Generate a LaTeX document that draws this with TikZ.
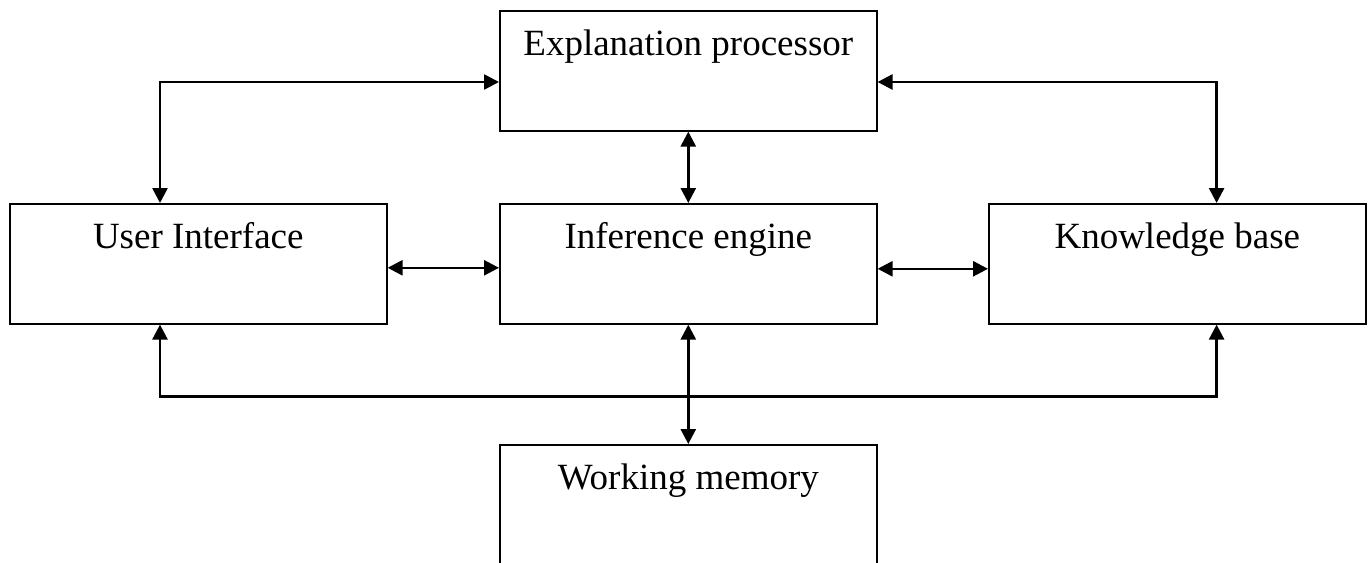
\documentclass[tikz,border=0pt]{standalone}
\usepackage{fontspec}
\setmainfont{Liberation Serif}
\usetikzlibrary{arrows.meta}
\begin{document}
\begin{tikzpicture}[x=1pt,y=-1pt,
  box/.style={draw,line width=1.6pt,minimum width=377pt,minimum height=120pt,anchor=north west,inner sep=0pt},
  lbl/.style={anchor=base,inner sep=0pt,font=\fontsize{37}{44}\selectfont},
  conn/.style={line width=2.6pt,{Triangle[length=15pt,width=15pt]}-{Triangle[length=15pt,width=15pt]}}]
\useasboundingbox (0,0) rectangle (1370,562);
\clip (0,0) rectangle (1370,562);
\node[box] (ep) at (499,10) {};
\node[box] (ui) at (9,203) {};
\node[box] (ie) at (499,203) {};
\node[box] (kb) at (988,203) {};
\node[box,minimum height=160pt] (wm) at (499,444) {};
\node[lbl] (ept) at ([yshift=-45pt]ep.north) {Explanation processor};
\node[lbl] (uit) at ([yshift=-45pt]ui.north) {User Interface};
\node[lbl] (iet) at ([yshift=-45pt]ie.north) {Inference engine};
\node[lbl] (kbt) at ([yshift=-45pt]kb.north) {Knowledge base};
\node[lbl] (wmt) at ([yshift=-45pt]wm.north) {Working memory};
\draw[conn] ([xshift=151pt]ui.north west) |- ([yshift=-72pt]ep.north west);
\draw[conn] ([xshift=-150pt]kb.north east) |- ([yshift=-72pt]ep.north east);
\draw[conn] ([yshift=-4pt]ui.east) -- ([yshift=-4pt]ie.west);
\draw[conn] ([yshift=-5pt]ie.east) -- ([yshift=-5pt]kb.west);
\draw[conn] (ep.south) -- (ie.north);
\draw[conn] (ie.south) -- (wm.north);
\draw[conn] ([xshift=151pt]ui.south west) |- ([yshift=-72pt]ie.south) -| ([xshift=-150pt]kb.south east);
\end{tikzpicture}
\end{document}
